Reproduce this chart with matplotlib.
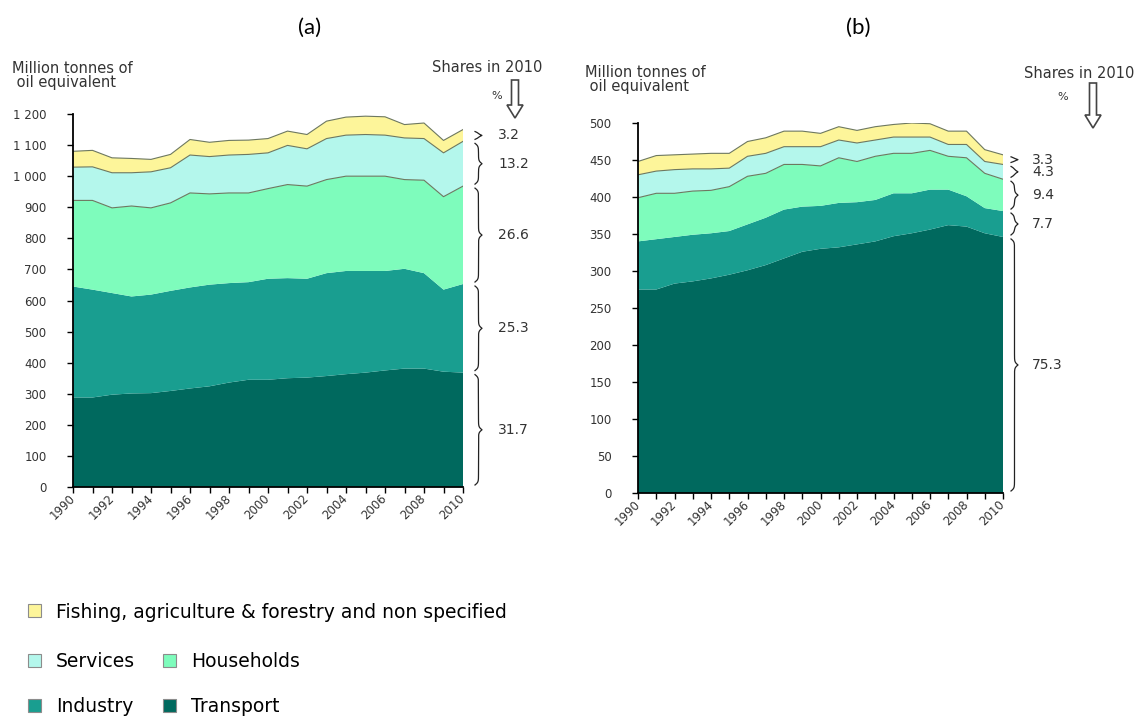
import matplotlib.pyplot as plt
import numpy as np
import matplotlib.transforms as mtransforms
from matplotlib.patches import Patch, Polygon
from matplotlib.lines import Line2D

years = list(range(1990, 2011))
sectors = ["Transport", "Industry", "Households", "Services",
           "Fishing, agriculture & forestry and non specified"]
colors = ["#00695e", "#199e90", "#7efcbc", "#b4f7ec", "#fdf59a"]

# (a) final energy consumption, Mtoe
transport_a = [288, 288, 297, 301, 302, 309, 317, 324, 336, 345, 345,
               350, 352, 357, 363, 368, 375, 381, 381, 371, 368]
industry_a = [357, 347, 327, 312, 317, 322, 325, 327, 320, 314, 325,
              322, 318, 331, 332, 327, 320, 321, 307, 264, 285]
households_a = [277, 287, 274, 291, 279, 283, 304, 292, 290, 287, 290,
                301, 298, 301, 305, 305, 305, 287, 299, 299, 315]
services_a = [107, 108, 113, 107, 116, 113, 122, 120, 122, 124, 115,
              126, 120, 132, 132, 134, 132, 134, 134, 141, 144]
fishing_a = [51, 53, 48, 46, 40, 43, 50, 46, 47, 46, 46,
             46, 46, 56, 58, 59, 59, 43, 50, 40, 38]
shares_a = ["31.7", "25.3", "26.6", "13.2", "3.2"]

# (b) oil consumption, Mtoe
transport_b = [275, 275, 283, 286, 290, 295, 301, 308, 317, 326, 330,
               332, 336, 340, 347, 351, 356, 362, 360, 351, 346]
industry_b = [65, 68, 63, 63, 61, 59, 62, 64, 66, 61, 58,
              60, 57, 56, 58, 54, 54, 48, 41, 34, 35]
households_b = [59, 62, 59, 59, 58, 60, 65, 60, 61, 57, 54,
                61, 55, 59, 54, 54, 53, 45, 52, 47, 43]
services_b = [31, 30, 32, 30, 29, 25, 27, 27, 24, 24, 26,
              24, 25, 22, 22, 22, 18, 16, 18, 16, 20]
fishing_b = [18, 21, 20, 20, 21, 20, 20, 21, 21, 21, 18,
             18, 17, 18, 17, 19, 18, 18, 18, 16, 13]
shares_b = ["75.3", "7.7", "9.4", "4.3", "3.3"]

W, H = 1138, 721
fig = plt.figure(figsize=(W / 100, H / 100), dpi=100)
txt = "#333333"
font = "DejaVu Sans"


def px_box(left, right, top, bottom):
    return [left / W, 1 - bottom / H, (right - left) / W, (bottom - top) / H]


def to_fig(x, y):
    return fig.transFigure.inverted().transform(np.column_stack([x, y]))


def brace(ax, lo, hi, label, gap, pad, depth=7):
    xr = ax.transAxes.transform((1, 0))[0]
    y0 = ax.transData.transform((2010, lo))[1] + 2
    y1 = ax.transData.transform((2010, hi))[1] - 2
    x0 = xr + gap
    mid = (y0 + y1) / 2
    r = max(min(1.4, (y1 - y0) / 10), 0.5)
    s = np.linspace(y0, mid, 120)
    sig = lambda z: 1 / (1 + np.exp(-z))
    xs = sig((s - y0) / r) + sig((s - mid) / r) - 0.5
    ys = np.concatenate([s, (y0 + y1 - s)[::-1]])
    xs = np.concatenate([xs, xs[::-1]])
    pts = to_fig(x0 + depth * xs, ys)
    fig.add_artist(Line2D(pts[:, 0], pts[:, 1], color="#222222", lw=0.9,
                          transform=fig.transFigure))
    lp = to_fig([x0 + pad], [mid])[0]
    fig.text(lp[0], lp[1], label, fontsize=10, color=txt, va="center",
             ha="left", family=font)


def arrow(cx, top, bottom):
    # hollow down arrow, pixel coordinates from top-left
    sw, hw, hl = 3.5, 8, 13
    pts = [(cx - sw, top), (cx + sw, top), (cx + sw, bottom - hl),
           (cx + hw, bottom - hl), (cx, bottom), (cx - hw, bottom - hl),
           (cx - sw, bottom - hl)]
    pts = [(x / W, 1 - y / H) for x, y in pts]
    fig.add_artist(Polygon(pts, closed=True, facecolor="white",
                           edgecolor="#444444", lw=1.2,
                           transform=fig.transFigure))


def panel(box, series, ymax, ystep, shares, gap, pad):
    ax = fig.add_axes(box)
    polys = ax.stackplot(years, *series, colors=colors, linewidth=0)
    cum = np.cumsum(np.array(series), axis=0)
    for k in (2, 3, 4):
        ax.plot(years, cum[k], color="#6d7860", lw=0.8)
    ax.plot([2010, 2010], [0, cum[4][-1]], color="#7a8a80", lw=0.6)
    ax.set_xlim(1990, 2010)
    ax.set_ylim(0, ymax)
    yt = np.arange(0, ymax + 1, ystep)
    ax.set_yticks(yt)
    ax.set_yticklabels([f"{v:,}".replace(",", " ") for v in yt],
                       family=font, fontsize=8.5, color=txt)
    ax.set_xticks(years)
    ax.set_xticklabels([str(y) if y % 2 == 0 else "" for y in years],
                       rotation=45, ha="right", va="center",
                       rotation_mode="anchor", family=font, fontsize=8.5,
                       color=txt)
    shift = mtransforms.ScaledTranslation(6 / 72, 0, fig.dpi_scale_trans)
    for lab in ax.get_xticklabels():
        lab.set_transform(lab.get_transform() + shift)
    ax.tick_params(axis="both", direction="out", length=4, width=1,
                   color="black")
    ax.tick_params(axis="y", pad=15)
    ax.tick_params(axis="x", pad=3)
    for sp in ("top", "right"):
        ax.spines[sp].set_visible(False)
    for sp in ("left", "bottom"):
        ax.spines[sp].set_linewidth(1.3)
        ax.spines[sp].set_color("black")
    ax.set_facecolor("none")
    lows = np.concatenate([[0], cum[:-1, -1]])
    for lo, hi, lab in zip(lows, cum[:, -1], shares):
        brace(ax, lo, hi, lab, gap, pad)
    return ax, polys


ax_a, polys = panel(px_box(73, 463, 114, 487),
                    [transport_a, industry_a, households_a, services_a,
                     fishing_a], 1200, 100, shares_a, 12, 23)
ax_b, _ = panel(px_box(638, 1003, 123, 493),
                [transport_b, industry_b, households_b, services_b,
                 fishing_b], 500, 50, shares_b, 8, 21)

fig.text(310 / W, 1 - 28 / H, "(a)", fontsize=16, ha="center", va="center",
         family="Lato")
fig.text(858 / W, 1 - 28 / H, "(b)", fontsize=16, ha="center", va="center",
         family="Lato")

for x0, y0 in ((12, 61), (585, 65)):
    fig.text(x0 / W, 1 - y0 / H, "Million tonnes of\n oil equivalent",
             fontsize=10.5, color=txt, family=font, va="top", ha="left",
             linespacing=0.95)

for x0, y0, ha, xp, yp, xa, at, ab in (
        (432, 68, "left", 497, 96, 515, 80, 118),
        (1134, 74, "right", 1063, 97, 1093, 83, 128)):
    fig.text(x0 / W, 1 - y0 / H, "Shares in 2010", fontsize=10.5,
             color=txt, family=font, va="center", ha=ha)
    fig.text(xp / W, 1 - yp / H, "%", fontsize=8, color=txt,
             family=font, va="center", ha="center")
    arrow(xa, at, ab)

handles = [Patch(facecolor=p.get_facecolor()[0], edgecolor="#8c8c8c",
                 lw=0.8) for p in polys]
common = dict(frameon=False, prop={"family": font, "size": 13.5},
              handlelength=0.68, handleheight=0.68, handletextpad=0.8,
              borderpad=0, borderaxespad=0, loc="center left")
fig.legend([handles[4]], [sectors[4]], bbox_to_anchor=(28 / W, 1 - 612 / H),
           **common)
fig.legend([handles[3], handles[1], handles[2], handles[0]],
           [sectors[3], sectors[1], sectors[2], sectors[0]], ncol=2,
           columnspacing=1.5, labelspacing=1.4,
           bbox_to_anchor=(28 / W, 1 - 684 / H), **common)

fig.savefig("out.png", dpi=100)
